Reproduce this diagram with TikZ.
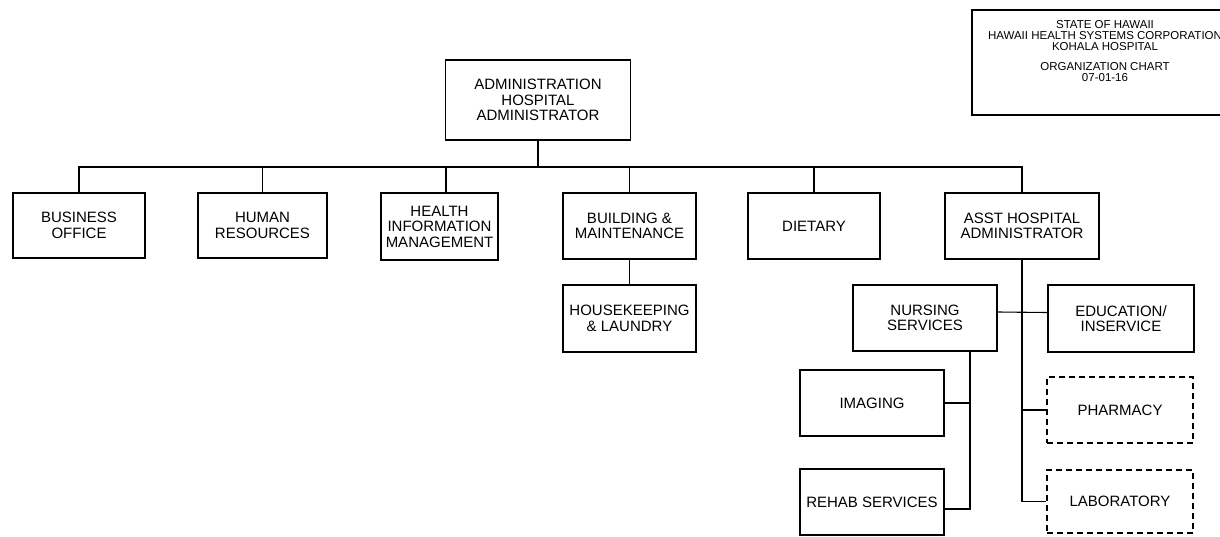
\documentclass[tikz,border=0pt]{standalone}
\usepackage{fontspec}
\setmainfont{Liberation Sans}
\begin{document}
\begin{tikzpicture}[x=1pt,y=-1pt,
  box/.style={draw=black,line width=1.4pt,align=center,inner sep=0pt,
    font=\fontsize{15}{15.5}\selectfont},
  dbox/.style={box,dashed,dash pattern=on 6pt off 4pt},
  conn/.style={draw=black,line width=1.1pt}]
\useasboundingbox (0,0) rectangle (1220,536);
\clip (0,0) rectangle (1220,536);
% title block
\draw[line width=1.1pt] (972,10) rectangle (1240,115);
\node[align=center,font=\fontsize{11.5}{11.2}\selectfont] (title) at (1105,51)
  {STATE OF HAWAII\\HAWAII HEALTH SYSTEMS CORPORATION\\KOHALA HOSPITAL\\[8pt]ORGANIZATION CHART\\07-01-16};
% nodes
\node[box,minimum width=185pt,minimum height=80pt] (admin) at (538,100) {ADMINISTRATION\\HOSPITAL\\ADMINISTRATOR};
\node[box,minimum width=132pt,minimum height=65pt] (bo) at (79,225.5) {BUSINESS\\OFFICE};
\node[box,minimum width=129pt,minimum height=65pt] (hr) at (262.5,225.5) {HUMAN\\RESOURCES};
\node[box,minimum width=117pt,minimum height=67pt] (him) at (439.5,226.5) {HEALTH\\INFORMATION\\MANAGEMENT};
\node[box,minimum width=133pt,minimum height=66pt] (bm) at (629.5,226) {BUILDING \&\\MAINTENANCE};
\node[box,minimum width=132pt,minimum height=66pt] (diet) at (814,226) {DIETARY};
\node[box,minimum width=154pt,minimum height=66pt] (asst) at (1022,226) {ASST HOSPITAL\\ADMINISTRATOR};
\node[box,minimum width=133pt,minimum height=67pt] (hk) at (629.5,318.5) {HOUSEKEEPING\\\& LAUNDRY};
\node[box,minimum width=144pt,minimum height=66pt] (nurs) at (925,318) {NURSING\\SERVICES};
\node[box,minimum width=146pt,minimum height=67pt] (edu) at (1121,318.5) {EDUCATION/\\INSERVICE};
\node[dbox,minimum width=146pt,minimum height=66pt] (pharm) at (1120,410) {PHARMACY};
\node[dbox,minimum width=146pt,minimum height=63pt] (lab) at (1120,501.5) {LABORATORY};
\node[box,minimum width=144pt,minimum height=66pt] (img) at (872,403) {IMAGING};
\node[box,minimum width=144pt,minimum height=66pt] (rehab) at (872,502) {REHAB SERVICES};
% bus
\coordinate (bus) at (538,167);
\draw[conn] (admin.south) -- (bus);
\draw[conn] (bo.north) |- (bus) -| (asst.north);
\draw[conn] (hr.north) -- (hr.north |- bus);
\draw[conn] ([xshift=6.5pt]him.north) -- ([xshift=6.5pt]him.north |- bus);
\draw[conn] (bm.north) -- (bm.north |- bus);
\draw[conn] (diet.north) -- (diet.north |- bus);
\draw[conn] (bm.south) -- (hk.north);
% asst branch
\draw[conn] (asst.south) |- (lab.west);
\draw[conn] (asst.south |- pharm.west) -- (pharm.west);
\draw[conn] ([yshift=6pt]nurs.east) -- ([yshift=6pt]edu.west);
% nursing branch
\coordinate (nx) at (970,351);
\draw[conn] (nurs.south -| nx) |- ([yshift=-7pt]rehab.east);
\draw[conn] (img.east) -- (img.east -| nx);
\end{tikzpicture}
\end{document}
